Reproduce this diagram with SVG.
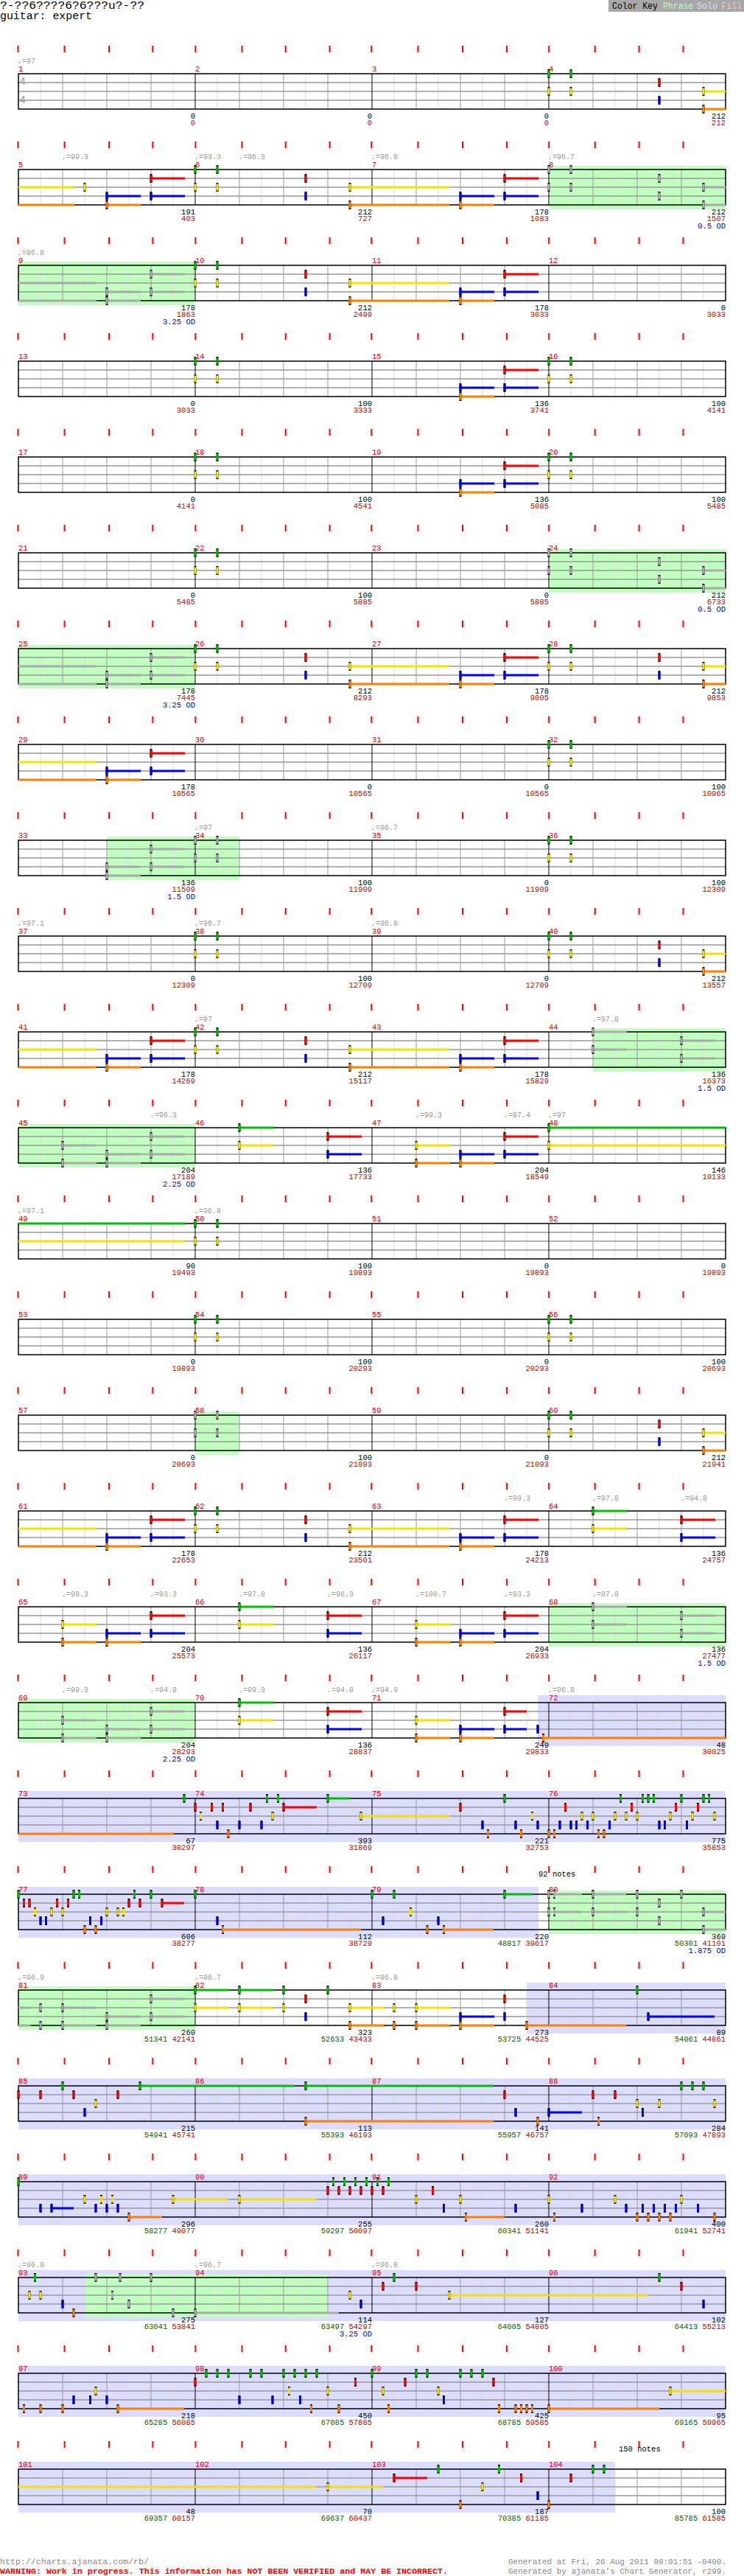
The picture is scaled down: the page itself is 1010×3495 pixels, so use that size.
<svg xmlns="http://www.w3.org/2000/svg" width="1010" height="3495" viewBox="0 0 1010 3495">
<style>
text{font-family:"Liberation Mono","DejaVu Sans Mono",monospace;font-size:10.5px}
.n text{text-anchor:end}
.nr{fill:#cc0000}.ng{fill:#006600}.od{fill:#0000cc}.mn{fill:#cc0000}
.tp{fill:#999999;font-size:10px}
.ts{fill:#999999;font-size:15px}
.g{fill:#00c000}.r{fill:#ff0000}.y{fill:#f5e100}.b{fill:#0000ff}.o{fill:#ff8000}.p{fill:#aaaaaa}
.ph{fill:#c0ffc0}.so{fill:#dcdcff}
</style>
<defs>
<g id="staff" fill="none">
<path stroke="#dddddd" d="M55 0V48M115 0V48M175 0V48M235 0V48M295 0V48M355 0V48M415 0V48M475 0V48M535 0V48M595 0V48M655 0V48M715 0V48M775 0V48M835 0V48M895 0V48M955 0V48"/>
<path stroke="#999999" d="M85 0V48M145 0V48M205 0V48M325 0V48M385 0V48M445 0V48M565 0V48M625 0V48M685 0V48M805 0V48M865 0V48M925 0V48"/>
<path stroke="#999999" stroke-width="1.5" d="M25 12H985M25 24H985M25 36H985"/>
<path stroke="#000000" d="M265 0V48M505 0V48M745 0V48"/>
<rect x="25" y="0" width="960" height="48" stroke="#000000" stroke-width="1.5"/>
</g>
<path id="ticks" stroke="#ff0000" stroke-width="2" d="M24.5 -38v9M87.6 -38v9M148.1 -38v9M207.4 -38v9M265.4 -38v9M328.5 -38v9M387.7 -38v9M447.6 -38v9M504.3 -38v9M567.5 -38v9M628 -38v9M687.9 -38v9M745.2 -38v9M807.7 -38v9M867.6 -38v9M927.5 -38v9"/>
<g id="G"><rect x="-1.5" y="-6" width="3" height="12"/><rect class="g" x="-1.5" y="-4.5" width="3" height="9"/></g>
<g id="R"><rect x="-1.5" y="6" width="3" height="12"/><rect class="r" x="-1.5" y="7.5" width="3" height="9"/></g>
<g id="Y"><rect x="-1.5" y="18" width="3" height="12"/><rect class="y" x="-1.5" y="19.5" width="3" height="9"/></g>
<g id="B"><rect x="-1.5" y="30" width="3" height="12"/><rect class="b" x="-1.5" y="31.5" width="3" height="9"/></g>
<g id="O"><rect x="-1.5" y="42" width="3" height="12"/><rect class="o" x="-1.5" y="43.5" width="3" height="9"/></g>
<g id="PG"><rect x="-1.5" y="-6" width="3" height="12"/><rect class="p" x="-1.5" y="-4.5" width="3" height="9"/></g>
<g id="PR"><rect x="-1.5" y="6" width="3" height="12"/><rect class="p" x="-1.5" y="7.5" width="3" height="9"/></g>
<g id="PY"><rect x="-1.5" y="18" width="3" height="12"/><rect class="p" x="-1.5" y="19.5" width="3" height="9"/></g>
<g id="PB"><rect x="-1.5" y="30" width="3" height="12"/><rect class="p" x="-1.5" y="31.5" width="3" height="9"/></g>
<g id="PO"><rect x="-1.5" y="42" width="3" height="12"/><rect class="p" x="-1.5" y="43.5" width="3" height="9"/></g>
<g id="gyC"><use href="#G"/><use href="#Y"/></g>
<g id="rbC"><use href="#R"/><use href="#B"/></g>
<g id="gyP"><use href="#PG"/><use href="#PY"/></g>
<g id="rbP"><use href="#PR"/><use href="#PB"/></g>
<g id="gy46C"><rect class="g" y="-1.5" width="46" height="3"/><rect class="y" y="22.5" width="46" height="3"/><use href="#gyC"/></g>
<g id="rb46C"><rect class="r" y="10.5" width="46" height="3"/><rect class="b" y="34.5" width="46" height="3"/><use href="#rbC"/></g>
<g id="yo46C"><rect class="y" y="22.5" width="46" height="3"/><rect class="o" y="46.5" width="46" height="3"/><use href="#Y"/><use href="#O"/></g>
<g id="bo46C"><rect class="b" y="34.5" width="46" height="3"/><rect class="o" y="46.5" width="46" height="3"/><use href="#B"/><use href="#O"/></g>
<g id="gy46P"><rect class="p" y="-1.5" width="46" height="3"/><rect class="p" y="22.5" width="46" height="3"/><use href="#gyP"/></g>
<g id="rb46P"><rect class="p" y="10.5" width="46" height="3"/><rect class="p" y="34.5" width="46" height="3"/><use href="#rbP"/></g>
<g id="yo46P"><rect class="p" y="22.5" width="46" height="3"/><rect class="p" y="46.5" width="46" height="3"/><use href="#PY"/><use href="#PO"/></g>
<g id="bo46P"><rect class="p" y="34.5" width="46" height="3"/><rect class="p" y="46.5" width="46" height="3"/><use href="#PB"/><use href="#PO"/></g>
<g id="yo135C"><rect class="y" y="22.5" width="135" height="3"/><rect class="o" y="46.5" width="135" height="3"/><use href="#Y"/><use href="#O"/></g>
<g id="yo30C"><rect class="y" y="22.5" width="30" height="3"/><rect class="o" y="46.5" width="30" height="3"/><use href="#Y"/><use href="#O"/></g>
<g id="yo30P"><rect class="p" y="22.5" width="30" height="3"/><rect class="p" y="46.5" width="30" height="3"/><use href="#PY"/><use href="#PO"/></g>
<g id="midC"><use href="#gyC"/><use href="#gyC" x="30"/><use href="#rbC" x="150"/><use href="#yo135C" x="210"/><use href="#bo46C" x="360"/><use href="#rb46C" x="420"/></g>
<g id="endC"><use href="#gyC"/><use href="#gyC" x="30"/><use href="#rbC" x="150"/><use href="#yo30C" x="210"/></g>
<g id="endP"><use href="#gyP"/><use href="#gyP" x="30"/><use href="#rbP" x="150"/><use href="#yo30P" x="210"/></g>
<g id="startC"><rect class="y" y="22.5" width="106" height="3"/><rect class="o" y="46.5" width="106" height="3"/><use href="#bo46C" x="120"/><use href="#rb46C" x="180"/></g>
<g id="startP"><rect class="p" y="22.5" width="106" height="3"/><rect class="p" y="46.5" width="106" height="3"/><use href="#bo46P" x="120"/><use href="#rb46P" x="180"/></g>
</defs>
<rect width="1010" height="3495" fill="#ffffff"/>
<g id="header">
<text x="0" y="12" style="font-size:14px" textLength="196" lengthAdjust="spacingAndGlyphs">?-??6????6?6???u?-??</text>
<text x="0" y="26" style="font-size:14px" textLength="125" lengthAdjust="spacingAndGlyphs">guitar: expert</text>
<rect x="826" y="0" width="184" height="16" fill="#a8a8a8"/>
<text x="831" y="12" style="font-size:13px" textLength="62" lengthAdjust="spacingAndGlyphs">Color Key</text>
<text x="900" y="12" style="font-size:13px;fill:#c0ffc0" textLength="41" lengthAdjust="spacingAndGlyphs">Phrase</text>
<text x="946" y="12" style="font-size:13px;fill:#dcdcff" textLength="28" lengthAdjust="spacingAndGlyphs">Solo</text>
<text x="979" y="12" style="font-size:13px;fill:#ffc0c0" textLength="28" lengthAdjust="spacingAndGlyphs">Fill</text>
</g>

<g id="r1" transform="translate(0,100)">
<use href="#ticks"/><use href="#staff"/>
<text class="tp" x="24" y="-14">♩=97</text>
<text class="mn" x="25" y="-3">1</text><text class="mn" x="265" y="-3">2</text><text class="mn" x="505" y="-3">3</text><text class="mn" x="745" y="-3">4</text>
<text class="ts" x="26" y="15">4</text><text class="ts" x="26" y="40">4</text>
<use href="#endC" x="745"/>
<g class="n"><text x="265" y="61">0</text><text class="nr" x="265" y="70">0</text><text x="505" y="61">0</text><text class="nr" x="505" y="70">0</text><text x="745" y="61">0</text><text class="nr" x="745" y="70">0</text><text x="985" y="61">212</text><text class="nr" x="985" y="70">212</text></g>
</g>

<g id="r2" transform="translate(0,230)">
<use href="#ticks"/><rect class="ph" x="745" y="-5" width="240" height="59"/><use href="#staff"/>
<text class="tp" x="84" y="-14">♩=99.3</text><text class="tp" x="264" y="-14">♩=93.3</text><text class="tp" x="324" y="-14">♩=96.3</text><text class="tp" x="504" y="-14">♩=96.8</text><text class="tp" x="744" y="-14">♩=96.7</text>
<text class="mn" x="25" y="-3">5</text><text class="mn" x="265" y="-3">6</text><text class="mn" x="505" y="-3">7</text><text class="mn" x="745" y="-3">8</text>
<rect class="y" x="25" y="22.5" width="76" height="3"/><rect class="o" x="25" y="46.5" width="76" height="3"/>
<use href="#Y" x="115"/><use href="#bo46C" x="145"/><use href="#rb46C" x="205"/>
<use href="#midC" x="265"/><use href="#endP" x="745"/>
<g class="n"><text x="265" y="61">191</text><text class="nr" x="265" y="70">403</text><text x="505" y="61">212</text><text class="nr" x="505" y="70">727</text><text x="745" y="61">178</text><text class="nr" x="745" y="70">1083</text><text x="985" y="61">212</text><text class="nr" x="985" y="70">1507</text><text class="od" x="985" y="80">0.5 OD</text></g>
</g>

<g id="r3" transform="translate(0,360)">
<use href="#ticks"/><rect class="ph" x="25" y="-5" width="240" height="59"/><use href="#staff"/>
<text class="tp" x="24" y="-14">♩=96.8</text>
<text class="mn" x="25" y="-3">9</text><text class="mn" x="265" y="-3">10</text><text class="mn" x="505" y="-3">11</text><text class="mn" x="745" y="-3">12</text>
<use href="#startP" x="25"/><use href="#midC" x="265"/>
<g class="n"><text x="265" y="61">178</text><text class="nr" x="265" y="70">1863</text><text class="od" x="265" y="80">3.25 OD</text><text x="505" y="61">212</text><text class="nr" x="505" y="70">2499</text><text x="745" y="61">178</text><text class="nr" x="745" y="70">3033</text><text x="985" y="61">0</text><text class="nr" x="985" y="70">3033</text></g>
</g>

<g id="r4" transform="translate(0,490)">
<use href="#ticks"/><use href="#staff"/>
<text class="mn" x="25" y="-3">13</text><text class="mn" x="265" y="-3">14</text><text class="mn" x="505" y="-3">15</text><text class="mn" x="745" y="-3">16</text>
<use href="#gyC" x="265"/><use href="#gyC" x="295"/><use href="#bo46C" x="625"/><use href="#rb46C" x="685"/><use href="#gyC" x="745"/><use href="#gyC" x="775"/>
<g class="n"><text x="265" y="61">0</text><text class="nr" x="265" y="70">3033</text><text x="505" y="61">100</text><text class="nr" x="505" y="70">3333</text><text x="745" y="61">136</text><text class="nr" x="745" y="70">3741</text><text x="985" y="61">100</text><text class="nr" x="985" y="70">4141</text></g>
</g>

<g id="r5" transform="translate(0,620)">
<use href="#ticks"/><use href="#staff"/>
<text class="mn" x="25" y="-3">17</text><text class="mn" x="265" y="-3">18</text><text class="mn" x="505" y="-3">19</text><text class="mn" x="745" y="-3">20</text>
<use href="#gyC" x="265"/><use href="#gyC" x="295"/><use href="#bo46C" x="625"/><use href="#rb46C" x="685"/><use href="#gyC" x="745"/><use href="#gyC" x="775"/>
<g class="n"><text x="265" y="61">0</text><text class="nr" x="265" y="70">4141</text><text x="505" y="61">100</text><text class="nr" x="505" y="70">4541</text><text x="745" y="61">136</text><text class="nr" x="745" y="70">5085</text><text x="985" y="61">100</text><text class="nr" x="985" y="70">5485</text></g>
</g>

<g id="r6" transform="translate(0,750)">
<use href="#ticks"/><rect class="ph" x="745" y="-5" width="240" height="59"/><use href="#staff"/>
<text class="mn" x="25" y="-3">21</text><text class="mn" x="265" y="-3">22</text><text class="mn" x="505" y="-3">23</text><text class="mn" x="745" y="-3">24</text>
<use href="#gyC" x="265"/><use href="#gyC" x="295"/><use href="#endP" x="745"/>
<g class="n"><text x="265" y="61">0</text><text class="nr" x="265" y="70">5485</text><text x="505" y="61">100</text><text class="nr" x="505" y="70">5885</text><text x="745" y="61">0</text><text class="nr" x="745" y="70">5885</text><text x="985" y="61">212</text><text class="nr" x="985" y="70">6733</text><text class="od" x="985" y="80">0.5 OD</text></g>
</g>

<g id="r7" transform="translate(0,880)">
<use href="#ticks"/><rect class="ph" x="25" y="-5" width="240" height="59"/><use href="#staff"/>
<text class="mn" x="25" y="-3">25</text><text class="mn" x="265" y="-3">26</text><text class="mn" x="505" y="-3">27</text><text class="mn" x="745" y="-3">28</text>
<use href="#startP" x="25"/><use href="#midC" x="265"/><use href="#endC" x="745"/>
<g class="n"><text x="265" y="61">178</text><text class="nr" x="265" y="70">7445</text><text class="od" x="265" y="80">3.25 OD</text><text x="505" y="61">212</text><text class="nr" x="505" y="70">8293</text><text x="745" y="61">178</text><text class="nr" x="745" y="70">9005</text><text x="985" y="61">212</text><text class="nr" x="985" y="70">9853</text></g>
</g>

<g id="r8" transform="translate(0,1010)">
<use href="#ticks"/><use href="#staff"/>
<text class="mn" x="25" y="-3">29</text><text class="mn" x="265" y="-3">30</text><text class="mn" x="505" y="-3">31</text><text class="mn" x="745" y="-3">32</text>
<use href="#startC" x="25"/><use href="#gyC" x="745"/><use href="#gyC" x="775"/>
<g class="n"><text x="265" y="61">178</text><text class="nr" x="265" y="70">10565</text><text x="505" y="61">0</text><text class="nr" x="505" y="70">10565</text><text x="745" y="61">0</text><text class="nr" x="745" y="70">10565</text><text x="985" y="61">100</text><text class="nr" x="985" y="70">10965</text></g>
</g>

<g id="r9" transform="translate(0,1140)">
<use href="#ticks"/><rect class="ph" x="145" y="-5" width="180" height="59"/><use href="#staff"/>
<text class="tp" x="264" y="-14">♩=97</text><text class="tp" x="504" y="-14">♩=96.7</text>
<text class="mn" x="25" y="-3">33</text><text class="mn" x="265" y="-3">34</text><text class="mn" x="505" y="-3">35</text><text class="mn" x="745" y="-3">36</text>
<use href="#bo46P" x="145"/><use href="#rb46P" x="205"/><use href="#gyP" x="265"/><use href="#gyP" x="295"/><use href="#gyC" x="745"/><use href="#gyC" x="775"/>
<g class="n"><text x="265" y="61">136</text><text class="nr" x="265" y="70">11509</text><text class="od" x="265" y="80">1.5 OD</text><text x="505" y="61">100</text><text class="nr" x="505" y="70">11909</text><text x="745" y="61">0</text><text class="nr" x="745" y="70">11909</text><text x="985" y="61">100</text><text class="nr" x="985" y="70">12309</text></g>
</g>

<g id="r10" transform="translate(0,1270)">
<use href="#ticks"/><use href="#staff"/>
<text class="tp" x="24" y="-14">♩=97.1</text><text class="tp" x="264" y="-14">♩=96.7</text><text class="tp" x="504" y="-14">♩=96.8</text>
<text class="mn" x="25" y="-3">37</text><text class="mn" x="265" y="-3">38</text><text class="mn" x="505" y="-3">39</text><text class="mn" x="745" y="-3">40</text>
<use href="#gyC" x="265"/><use href="#gyC" x="295"/><use href="#endC" x="745"/>
<g class="n"><text x="265" y="61">0</text><text class="nr" x="265" y="70">12309</text><text x="505" y="61">100</text><text class="nr" x="505" y="70">12709</text><text x="745" y="61">0</text><text class="nr" x="745" y="70">12709</text><text x="985" y="61">212</text><text class="nr" x="985" y="70">13557</text></g>
</g>

<g id="r11" transform="translate(0,1400)">
<use href="#ticks"/><rect class="ph" x="805" y="-5" width="180" height="59"/><use href="#staff"/>
<text class="tp" x="264" y="-14">♩=97</text><text class="tp" x="804" y="-14">♩=97.8</text>
<text class="mn" x="25" y="-3">41</text><text class="mn" x="265" y="-3">42</text><text class="mn" x="505" y="-3">43</text><text class="mn" x="745" y="-3">44</text>
<use href="#startC" x="25"/><use href="#midC" x="265"/><use href="#gy46P" x="805"/><use href="#rb46P" x="925"/>
<g class="n"><text x="265" y="61">178</text><text class="nr" x="265" y="70">14269</text><text x="505" y="61">212</text><text class="nr" x="505" y="70">15117</text><text x="745" y="61">178</text><text class="nr" x="745" y="70">15829</text><text x="985" y="61">136</text><text class="nr" x="985" y="70">16373</text><text class="od" x="985" y="80">1.5 OD</text></g>
</g>

<g id="r12" transform="translate(0,1530)">
<use href="#ticks"/><rect class="ph" x="25" y="-5" width="240" height="59"/><use href="#staff"/>
<text class="tp" x="204" y="-14">♩=96.3</text><text class="tp" x="564" y="-14">♩=99.3</text><text class="tp" x="684" y="-14">♩=87.4</text><text class="tp" x="744" y="-14">♩=97</text>
<text class="mn" x="25" y="-3">45</text><text class="mn" x="265" y="-3">46</text><text class="mn" x="505" y="-3">47</text><text class="mn" x="745" y="-3">48</text>
<use href="#yo46P" x="85"/><use href="#bo46P" x="145"/><use href="#rb46P" x="205"/>
<use href="#gy46C" x="325"/><use href="#rb46C" x="445"/><use href="#yo46C" x="565"/><use href="#bo46C" x="625"/><use href="#rb46C" x="685"/>
<rect class="g" x="745" y="-1.5" width="240" height="3"/><rect class="y" x="745" y="22.5" width="240" height="3"/><use href="#gyC" x="745"/>
<g class="n"><text x="265" y="61">204</text><text class="nr" x="265" y="70">17189</text><text class="od" x="265" y="80">2.25 OD</text><text x="505" y="61">136</text><text class="nr" x="505" y="70">17733</text><text x="745" y="61">204</text><text class="nr" x="745" y="70">18549</text><text x="985" y="61">146</text><text class="nr" x="985" y="70">19133</text></g>
</g>

<g id="r13" transform="translate(0,1660)">
<use href="#ticks"/><use href="#staff"/>
<text class="tp" x="24" y="-14">♩=97.1</text><text class="tp" x="264" y="-14">♩=96.8</text>
<text class="mn" x="25" y="-3">49</text><text class="mn" x="265" y="-3">50</text><text class="mn" x="505" y="-3">51</text><text class="mn" x="745" y="-3">52</text>
<rect class="g" x="25" y="-1.5" width="226" height="3"/><rect class="y" x="25" y="22.5" width="226" height="3"/>
<use href="#gyC" x="265"/><use href="#gyC" x="295"/>
<g class="n"><text x="265" y="61">90</text><text class="nr" x="265" y="70">19493</text><text x="505" y="61">100</text><text class="nr" x="505" y="70">19893</text><text x="745" y="61">0</text><text class="nr" x="745" y="70">19893</text><text x="985" y="61">0</text><text class="nr" x="985" y="70">19893</text></g>
</g>

<g id="r14" transform="translate(0,1790)">
<use href="#ticks"/><use href="#staff"/>
<text class="mn" x="25" y="-3">53</text><text class="mn" x="265" y="-3">54</text><text class="mn" x="505" y="-3">55</text><text class="mn" x="745" y="-3">56</text>
<use href="#gyC" x="265"/><use href="#gyC" x="295"/><use href="#gyC" x="745"/><use href="#gyC" x="775"/>
<g class="n"><text x="265" y="61">0</text><text class="nr" x="265" y="70">19893</text><text x="505" y="61">100</text><text class="nr" x="505" y="70">20293</text><text x="745" y="61">0</text><text class="nr" x="745" y="70">20293</text><text x="985" y="61">100</text><text class="nr" x="985" y="70">20693</text></g>
</g>

<g id="r15" transform="translate(0,1920)">
<use href="#ticks"/><rect class="ph" x="265" y="-5" width="60" height="59"/><use href="#staff"/>
<text class="mn" x="25" y="-3">57</text><text class="mn" x="265" y="-3">58</text><text class="mn" x="505" y="-3">59</text><text class="mn" x="745" y="-3">60</text>
<use href="#gyP" x="265"/><use href="#gyP" x="295"/><use href="#endC" x="745"/>
<g class="n"><text x="265" y="61">0</text><text class="nr" x="265" y="70">20693</text><text x="505" y="61">100</text><text class="nr" x="505" y="70">21093</text><text x="745" y="61">0</text><text class="nr" x="745" y="70">21093</text><text x="985" y="61">212</text><text class="nr" x="985" y="70">21941</text></g>
</g>

<g id="r16" transform="translate(0,2050)">
<use href="#ticks"/><use href="#staff"/>
<text class="tp" x="684" y="-14">♩=99.3</text><text class="tp" x="804" y="-14">♩=97.8</text><text class="tp" x="924" y="-14">♩=94.8</text>
<text class="mn" x="25" y="-3">61</text><text class="mn" x="265" y="-3">62</text><text class="mn" x="505" y="-3">63</text><text class="mn" x="745" y="-3">64</text>
<use href="#startC" x="25"/><use href="#midC" x="265"/><use href="#gy46C" x="805"/><use href="#rb46C" x="925"/>
<g class="n"><text x="265" y="61">178</text><text class="nr" x="265" y="70">22653</text><text x="505" y="61">212</text><text class="nr" x="505" y="70">23501</text><text x="745" y="61">178</text><text class="nr" x="745" y="70">24213</text><text x="985" y="61">136</text><text class="nr" x="985" y="70">24757</text></g>
</g>

<g id="r17" transform="translate(0,2180)">
<use href="#ticks"/><rect class="ph" x="745" y="-5" width="240" height="59"/><use href="#staff"/>
<text class="tp" x="84" y="-14">♩=99.3</text><text class="tp" x="204" y="-14">♩=93.3</text><text class="tp" x="324" y="-14">♩=97.8</text><text class="tp" x="444" y="-14">♩=96.3</text><text class="tp" x="564" y="-14">♩=100.7</text><text class="tp" x="684" y="-14">♩=93.3</text><text class="tp" x="804" y="-14">♩=97.8</text>
<text class="mn" x="25" y="-3">65</text><text class="mn" x="265" y="-3">66</text><text class="mn" x="505" y="-3">67</text><text class="mn" x="745" y="-3">68</text>
<use href="#yo46C" x="85"/><use href="#bo46C" x="145"/><use href="#rb46C" x="205"/><use href="#gy46C" x="325"/><use href="#rb46C" x="445"/><use href="#yo46C" x="565"/><use href="#bo46C" x="625"/><use href="#rb46C" x="685"/><use href="#gy46P" x="805"/><use href="#rb46P" x="925"/>
<g class="n"><text x="265" y="61">204</text><text class="nr" x="265" y="70">25573</text><text x="505" y="61">136</text><text class="nr" x="505" y="70">26117</text><text x="745" y="61">204</text><text class="nr" x="745" y="70">26933</text><text x="985" y="61">136</text><text class="nr" x="985" y="70">27477</text><text class="od" x="985" y="80">1.5 OD</text></g>
</g>

<g id="r18" transform="translate(0,2310)">
<use href="#ticks"/><rect class="ph" x="25" y="-5" width="240" height="59"/><rect class="so" x="730" y="-10" width="255" height="69"/><use href="#staff"/>
<text class="tp" x="84" y="-14">♩=99.3</text><text class="tp" x="204" y="-14">♩=94.8</text><text class="tp" x="324" y="-14">♩=99.3</text><text class="tp" x="444" y="-14">♩=94.8</text><text class="tp" x="504" y="-14">♩=94.9</text><text class="tp" x="744" y="-14">♩=96.8</text>
<text class="mn" x="25" y="-3">69</text><text class="mn" x="265" y="-3">70</text><text class="mn" x="505" y="-3">71</text><text class="mn" x="745" y="-3">72</text>
<use href="#yo46P" x="85"/><use href="#bo46P" x="145"/><use href="#rb46P" x="205"/><use href="#gy46C" x="325"/><use href="#rb46C" x="445"/><use href="#yo46C" x="565"/><use href="#bo46C" x="625"/>
<rect class="r" x="685" y="10.5" width="30" height="3"/><rect class="b" x="685" y="34.5" width="30" height="3"/><use href="#rbC" x="685"/>
<use href="#B" x="730"/><rect class="o" x="737.5" y="46.5" width="247.5" height="3"/><use href="#O" x="737.5"/>
<g class="n"><text x="265" y="61">204</text><text class="nr" x="265" y="70">28293</text><text class="od" x="265" y="80">2.25 OD</text><text x="505" y="61">136</text><text class="nr" x="505" y="70">28837</text><text x="745" y="61">249</text><text class="nr" x="745" y="70">29833</text><text x="985" y="61">48</text><text class="nr" x="985" y="70">30025</text></g>
</g>

<g id="r19" transform="translate(0,2440)">
<use href="#ticks"/><rect class="so" x="25" y="-10" width="960" height="69"/><use href="#staff"/>
<text class="mn" x="25" y="-3">73</text><text class="mn" x="265" y="-3">74</text><text class="mn" x="505" y="-3">75</text><text class="mn" x="745" y="-3">76</text>
<rect class="o" x="25" y="46.5" width="211" height="3"/><rect class="r" x="385" y="10.5" width="45" height="3"/><rect class="g" x="445" y="-1.5" width="30" height="3"/><rect class="y" x="490" y="22.5" width="120" height="3"/>
<use href="#G" x="250"/><use href="#R" x="265"/><use href="#Y" x="272.5"/><use href="#R" x="287.5"/><use href="#B" x="295"/><use href="#R" x="302.5"/><use href="#O" x="310"/><use href="#B" x="325"/><use href="#R" x="340"/><use href="#B" x="355"/><use href="#G" x="362.5"/><use href="#Y" x="370"/><use href="#G" x="377.5"/><use href="#R" x="385"/><use href="#G" x="445"/><use href="#Y" x="490"/>
<use href="#R" x="625"/><use href="#B" x="655"/><use href="#O" x="662.5"/><use href="#G" x="685"/><use href="#B" x="700"/><use href="#O" x="707.5"/><use href="#Y" x="722.5"/><use href="#B" x="730"/><use href="#O" x="745"/><use href="#O" x="752.5"/><use href="#B" x="760"/><use href="#R" x="767.5"/><use href="#B" x="775"/><use href="#B" x="782.5"/><use href="#Y" x="790"/><use href="#B" x="797.5"/><use href="#Y" x="805"/><use href="#O" x="812.5"/><use href="#O" x="820"/><use href="#B" x="827.5"/><use href="#Y" x="835"/><use href="#G" x="842.5"/><use href="#Y" x="850"/><use href="#R" x="857.5"/><use href="#Y" x="865"/><use href="#G" x="872.5"/><use href="#G" x="880"/><use href="#G" x="887.5"/><use href="#B" x="895"/><use href="#B" x="902.5"/><use href="#Y" x="910"/><use href="#R" x="917.5"/><use href="#G" x="925"/><use href="#B" x="932.5"/><use href="#Y" x="940"/><use href="#R" x="947.5"/><use href="#G" x="955"/><use href="#G" x="962.5"/><use href="#Y" x="970"/>
<g class="n"><text x="265" y="61">67</text><text class="nr" x="265" y="70">30297</text><text x="505" y="61">393</text><text class="nr" x="505" y="70">31869</text><text x="745" y="61">221</text><text class="nr" x="745" y="70">32753</text><text x="985" y="61">775</text><text class="nr" x="985" y="70">35853</text></g>
</g>

<g id="r20" transform="translate(0,2570)">
<use href="#ticks"/><rect class="so" x="25" y="-10" width="706" height="69"/><rect class="ph" x="745" y="-5" width="240" height="59"/><use href="#staff"/>
<text x="731" y="-24">92 notes</text>
<text class="mn" x="25" y="-3">77</text><text class="mn" x="265" y="-3">78</text><text class="mn" x="505" y="-3">79</text><text class="mn" x="745" y="-3">80</text>
<rect class="r" x="220" y="10.5" width="30" height="3"/><rect class="o" x="302.5" y="46.5" width="187.5" height="3"/><rect class="o" x="602.5" y="46.5" width="67.5" height="3"/><rect class="g" x="685" y="-1.5" width="37.5" height="3"/>
<use href="#G" x="25"/><use href="#R" x="32.5"/><use href="#R" x="40"/><use href="#Y" x="47.5"/><use href="#B" x="55"/><use href="#B" x="62.5"/><use href="#Y" x="70"/><use href="#R" x="77.5"/><use href="#Y" x="85"/><use href="#R" x="92.5"/><use href="#G" x="100"/><use href="#G" x="107.5"/><use href="#O" x="115"/><use href="#B" x="122.5"/><use href="#O" x="130"/><use href="#B" x="137.5"/><use href="#Y" x="145"/><use href="#Y" x="160"/><use href="#Y" x="167.5"/><use href="#R" x="175"/><use href="#G" x="182.5"/><use href="#R" x="190"/><use href="#G" x="205"/><use href="#R" x="220"/>
<use href="#G" x="265"/><use href="#B" x="295"/><use href="#O" x="302.5"/><use href="#G" x="505"/><use href="#B" x="520"/><use href="#G" x="535"/><use href="#Y" x="557.5"/><use href="#O" x="580"/><use href="#B" x="595"/><use href="#O" x="602.5"/><use href="#G" x="685"/>
<use href="#gyP" x="745"/><rect class="p" x="752.5" y="-1.5" width="37.5" height="3"/><rect class="p" x="752.5" y="22.5" width="37.5" height="3"/><use href="#gyP" x="752.5"/>
<rect class="p" x="805" y="-1.5" width="45" height="3"/><rect class="p" x="805" y="22.5" width="45" height="3"/><use href="#gyP" x="805"/>
<use href="#gyP" x="865"/><use href="#rbP" x="895"/><use href="#PG" x="925"/><use href="#yo30P" x="955"/>
<g class="n"><text x="265" y="61">606</text><text class="nr" x="265" y="70">38277</text><text x="505" y="61">112</text><text class="nr" x="505" y="70">38729</text><text x="745" y="61">220</text><text class="nr" x="745" y="70"><tspan class="ng">48817 </tspan>39617</text><text x="985" y="61">369</text><text class="nr" x="985" y="70"><tspan class="ng">50301 </tspan>41101</text><text class="od" x="985" y="80">1.875 OD</text></g>
</g>

<g id="r21" transform="translate(0,2700)">
<use href="#ticks"/><rect class="ph" x="25" y="-5" width="240" height="59"/><rect class="so" x="715" y="-10" width="270" height="69"/><use href="#staff"/>
<text class="tp" x="24" y="-14">♩=96.9</text><text class="tp" x="264" y="-14">♩=96.7</text><text class="tp" x="504" y="-14">♩=96.8</text>
<text class="mn" x="25" y="-3">81</text><text class="mn" x="265" y="-3">82</text><text class="mn" x="505" y="-3">83</text><text class="mn" x="745" y="-3">84</text>
<rect class="p" x="25" y="22.5" width="16.5" height="3"/><rect class="p" x="25" y="46.5" width="16.5" height="3"/><use href="#PY" x="55"/><use href="#PO" x="55"/>
<use href="#yo46P" x="85"/><use href="#bo46P" x="145"/><use href="#rb46P" x="205"/>
<use href="#gy46C" x="265"/><use href="#gy46C" x="325"/><use href="#gyC" x="385"/><use href="#rbC" x="415"/><use href="#G" x="445"/><use href="#yo46C" x="475"/><use href="#Y" x="535"/><use href="#O" x="535"/><use href="#yo46C" x="565"/><use href="#bo46C" x="625"/><use href="#rbC" x="685"/>
<rect class="o" x="715" y="46.5" width="135" height="3"/><use href="#O" x="715"/><use href="#G" x="865"/><rect class="b" x="880" y="34.5" width="90" height="3"/><use href="#B" x="880"/>
<g class="n"><text x="265" y="61">260</text><text class="nr" x="265" y="70"><tspan class="ng">51341 </tspan>42141</text><text x="505" y="61">323</text><text class="nr" x="505" y="70"><tspan class="ng">52633 </tspan>43433</text><text x="745" y="61">273</text><text class="nr" x="745" y="70"><tspan class="ng">53725 </tspan>44525</text><text x="985" y="61">89</text><text class="nr" x="985" y="70"><tspan class="ng">54061 </tspan>44861</text></g>
</g>

<g id="r22" transform="translate(0,2830)">
<use href="#ticks"/><rect class="so" x="25" y="-10" width="960" height="69"/><use href="#staff"/>
<text class="mn" x="25" y="-3">85</text><text class="mn" x="265" y="-3">86</text><text class="mn" x="505" y="-3">87</text><text class="mn" x="745" y="-3">88</text>
<rect class="g" x="190" y="-1.5" width="210" height="3"/><rect class="g" x="415" y="-1.5" width="255" height="3"/><rect class="o" x="415" y="46.5" width="255" height="3"/><rect class="b" x="745" y="34.5" width="45" height="3"/>
<use href="#R" x="25"/><use href="#R" x="55"/><use href="#G" x="85"/><use href="#R" x="100"/><use href="#B" x="115"/><use href="#Y" x="130"/><use href="#R" x="160"/><use href="#G" x="190"/><use href="#G" x="415"/><use href="#O" x="415"/><use href="#R" x="685"/><use href="#B" x="700"/><use href="#O" x="730"/><use href="#B" x="745"/><use href="#R" x="805"/><use href="#O" x="812.5"/><use href="#R" x="835"/><use href="#Y" x="865"/><use href="#B" x="872.5"/><use href="#Y" x="895"/><use href="#G" x="925"/><use href="#G" x="940"/><use href="#G" x="955"/><use href="#Y" x="970"/>
<g class="n"><text x="265" y="61">215</text><text class="nr" x="265" y="70"><tspan class="ng">54941 </tspan>45741</text><text x="505" y="61">113</text><text class="nr" x="505" y="70"><tspan class="ng">55393 </tspan>46193</text><text x="745" y="61">141</text><text class="nr" x="745" y="70"><tspan class="ng">55957 </tspan>46757</text><text x="985" y="61">284</text><text class="nr" x="985" y="70"><tspan class="ng">57093 </tspan>47893</text></g>
</g>

<g id="r23" transform="translate(0,2960)">
<use href="#ticks"/><rect class="so" x="25" y="-10" width="960" height="69"/><use href="#staff"/>
<text class="mn" x="25" y="-3">89</text><text class="mn" x="265" y="-3">90</text><text class="mn" x="505" y="-3">91</text><text class="mn" x="745" y="-3">92</text>
<rect class="b" x="70" y="34.5" width="30" height="3"/><rect class="o" x="175" y="46.5" width="45" height="3"/><rect class="y" x="235" y="22.5" width="75" height="3"/><rect class="y" x="325" y="22.5" width="105" height="3"/><rect class="o" x="632.5" y="46.5" width="52.5" height="3"/>
<use href="#G" x="25"/><use href="#B" x="55"/><use href="#B" x="70"/><use href="#Y" x="115"/><use href="#B" x="130"/><use href="#Y" x="137.5"/><use href="#B" x="145"/><use href="#Y" x="152.5"/><use href="#B" x="160"/><use href="#O" x="175"/><use href="#Y" x="235"/><use href="#Y" x="325"/>
<use href="#R" x="445"/><use href="#G" x="452.5"/><use href="#R" x="460"/><use href="#G" x="467.5"/><use href="#R" x="475"/><use href="#G" x="482.5"/><use href="#R" x="490"/><use href="#G" x="497.5"/><use href="#R" x="505"/><use href="#G" x="512.5"/><use href="#R" x="520"/><use href="#G" x="527.5"/>
<use href="#Y" x="565"/><use href="#R" x="587.5"/><use href="#B" x="602.5"/><use href="#Y" x="625"/><use href="#O" x="632.5"/><use href="#B" x="700"/><use href="#Y" x="745"/><use href="#O" x="752.5"/><use href="#B" x="790"/><use href="#Y" x="835"/><use href="#B" x="850"/><use href="#O" x="865"/><use href="#B" x="872.5"/><use href="#O" x="880"/><use href="#B" x="887.5"/><use href="#O" x="895"/><use href="#B" x="902.5"/><use href="#O" x="910"/><use href="#B" x="917.5"/><use href="#Y" x="925"/><use href="#B" x="947.5"/><use href="#O" x="970"/>
<g class="n"><text x="265" y="61">296</text><text class="nr" x="265" y="70"><tspan class="ng">58277 </tspan>49077</text><text x="505" y="61">255</text><text class="nr" x="505" y="70"><tspan class="ng">59297 </tspan>50097</text><text x="745" y="61">260</text><text class="nr" x="745" y="70"><tspan class="ng">60341 </tspan>51141</text><text x="985" y="61">400</text><text class="nr" x="985" y="70"><tspan class="ng">61941 </tspan>52741</text></g>
</g>

<g id="r24" transform="translate(0,3090)">
<use href="#ticks"/><rect class="so" x="25" y="-10" width="960" height="69"/><rect class="ph" x="115" y="-5" width="330" height="59"/><use href="#staff"/>
<text class="tp" x="24" y="-14">♩=96.9</text><text class="tp" x="264" y="-14">♩=96.7</text><text class="tp" x="504" y="-14">♩=96.8</text>
<text class="mn" x="25" y="-3">93</text><text class="mn" x="265" y="-3">94</text><text class="mn" x="505" y="-3">95</text><text class="mn" x="745" y="-3">96</text>
<rect class="p" x="265" y="46.5" width="195" height="3"/><rect class="y" x="610" y="22.5" width="270" height="3"/>
<use href="#Y" x="40"/><use href="#G" x="47.5"/><use href="#Y" x="55"/><use href="#B" x="85"/><use href="#O" x="100"/>
<use href="#PG" x="130"/><use href="#PY" x="152.5"/><use href="#PG" x="163"/><use href="#PB" x="175"/><use href="#PG" x="205"/><use href="#PO" x="235"/><use href="#PO" x="265"/>
<use href="#Y" x="475"/><use href="#B" x="490"/><use href="#R" x="520"/><use href="#G" x="535"/><use href="#R" x="565"/><use href="#Y" x="610"/><use href="#G" x="895"/><use href="#R" x="925"/><use href="#B" x="955"/>
<g class="n"><text x="265" y="61">275</text><text class="nr" x="265" y="70"><tspan class="ng">63041 </tspan>53841</text><text x="505" y="61">114</text><text class="nr" x="505" y="70"><tspan class="ng">63497 </tspan>54297</text><text class="od" x="505" y="80">3.25 OD</text><text x="745" y="61">127</text><text class="nr" x="745" y="70"><tspan class="ng">64005 </tspan>54805</text><text x="985" y="61">102</text><text class="nr" x="985" y="70"><tspan class="ng">64413 </tspan>55213</text></g>
</g>

<g id="r25" transform="translate(0,3220)">
<use href="#ticks"/><rect class="so" x="25" y="-10" width="960" height="69"/><use href="#staff"/>
<text class="mn" x="25" y="-3">97</text><text class="mn" x="265" y="-3">98</text><text class="mn" x="505" y="-3">99</text><text class="mn" x="745" y="-3">100</text>
<rect class="o" x="160" y="46.5" width="90" height="3"/><rect class="o" x="745" y="46.5" width="150" height="3"/><rect class="y" x="910" y="22.5" width="75" height="3"/>
<use href="#O" x="32.5"/><use href="#O" x="55"/><use href="#O" x="85"/><use href="#B" x="100"/><use href="#B" x="122.5"/><use href="#Y" x="130"/><use href="#B" x="145"/><use href="#O" x="160"/>
<use href="#R" x="265"/><use href="#G" x="280"/><use href="#G" x="295"/><use href="#G" x="310"/><use href="#B" x="325"/><use href="#G" x="340"/><use href="#G" x="355"/><use href="#B" x="370"/><use href="#G" x="385"/><use href="#Y" x="392.5"/><use href="#G" x="400"/><use href="#B" x="407.5"/><use href="#G" x="415"/><use href="#O" x="422.5"/><use href="#G" x="430"/><use href="#Y" x="445"/><use href="#O" x="460"/><use href="#R" x="482.5"/>
<use href="#G" x="505"/><use href="#Y" x="520"/><use href="#O" x="527.5"/><use href="#R" x="550"/><use href="#G" x="565"/><use href="#G" x="580"/><use href="#Y" x="595"/><use href="#B" x="602.5"/><use href="#G" x="625"/><use href="#G" x="640"/><use href="#G" x="655"/><use href="#R" x="670"/><use href="#O" x="677.5"/><use href="#O" x="700"/><use href="#O" x="707.5"/><use href="#O" x="715"/><use href="#O" x="722.5"/>
<use href="#O" x="745"/><use href="#Y" x="910"/>
<g class="n"><text x="265" y="61">218</text><text class="nr" x="265" y="70"><tspan class="ng">65285 </tspan>56085</text><text x="505" y="61">450</text><text class="nr" x="505" y="70"><tspan class="ng">67085 </tspan>57885</text><text x="745" y="61">425</text><text class="nr" x="745" y="70"><tspan class="ng">68785 </tspan>59585</text><text x="985" y="61">95</text><text class="nr" x="985" y="70"><tspan class="ng">69165 </tspan>59965</text></g>
</g>

<g id="r26" transform="translate(0,3350)">
<use href="#ticks"/><rect class="so" x="25" y="-10" width="810" height="69"/><use href="#staff"/>
<text x="840" y="-24">150 notes</text>
<text class="mn" x="25" y="-3">101</text><text class="mn" x="265" y="-3">102</text><text class="mn" x="505" y="-3">103</text><text class="mn" x="745" y="-3">104</text>
<rect class="y" x="25" y="22.5" width="405" height="3"/><rect class="y" x="445" y="22.5" width="75" height="3"/><rect class="r" x="535" y="10.5" width="45" height="3"/>
<use href="#Y" x="445"/><use href="#R" x="535"/><use href="#G" x="595"/><use href="#O" x="625"/><use href="#Y" x="655"/><use href="#G" x="677.5"/><use href="#R" x="707.5"/><use href="#B" x="730"/><use href="#O" x="745"/><use href="#R" x="775"/><use href="#G" x="805"/><use href="#G" x="820"/>
<g class="n"><text x="265" y="61">48</text><text class="nr" x="265" y="70"><tspan class="ng">69357 </tspan>60157</text><text x="505" y="61">70</text><text class="nr" x="505" y="70"><tspan class="ng">69637 </tspan>60437</text><text x="745" y="61">187</text><text class="nr" x="745" y="70"><tspan class="ng">70385 </tspan>61185</text><text x="985" y="61">100</text><text class="nr" x="985" y="70"><tspan class="ng">85785 </tspan>61585</text></g>
</g>

<g id="footer">
<text x="0" y="3479" style="fill:#888888;font-size:11px" textLength="202" lengthAdjust="spacingAndGlyphs">http://charts.ajanata.com/rb/</text>
<text x="0" y="3492" style="fill:#ff0000;font-size:11px;font-weight:bold" textLength="608" lengthAdjust="spacingAndGlyphs">WARNING: Work in progress. This information has NOT BEEN VERIFIED and MAY BE INCORRECT.</text>
<text x="690" y="3479" style="fill:#888888;font-size:11px" textLength="296" lengthAdjust="spacingAndGlyphs">Generated at Fri, 26 Aug 2011 08:01:51 -0400.</text>
<text x="690" y="3492" style="fill:#888888;font-size:11px" textLength="296" lengthAdjust="spacingAndGlyphs">Generated by ajanata's Chart Generator, r299.</text>
</g>
</svg>
